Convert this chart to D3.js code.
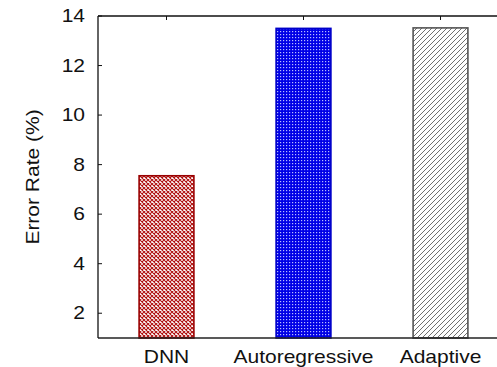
<!DOCTYPE html>
<html>
<head>
<meta charset="utf-8">
<script src="https://cdn.jsdelivr.net/npm/d3@7"></script>
<style>
  body { margin: 0; background: #fff; }
  text { font-family: "Liberation Sans", Arial, sans-serif; fill: #111; }
</style>
</head>
<body>
<svg id="chart" width="497" height="367"></svg>
<script>
// chart data
const categories = ['DNN', 'Autoregressive', 'Adaptive'];
const values = [7.55, 13.5, 13.52];
const yTicks = [2, 4, 6, 8, 10, 12, 14];
const yLabel = 'Error Rate (%)';

const svg = d3.select('#chart');
const margin = { left: 98, top: 16, bottom: 338 };
const stretch = 1.2; // text in the picture is drawn wide

const x = d3.scaleLinear().domain([0.5, 3.5]).range([margin.left, 509]);
const y = d3.scaleLinear().domain([1, 14]).range([margin.bottom, margin.top]);
const barW = x(1.4) - x(1);

// fill patterns
const defs = svg.append('defs');
const p1 = defs.append('pattern').attr('id', 'p-dnn')
  .attr('patternUnits', 'userSpaceOnUse').attr('width', 4).attr('height', 4);
p1.append('rect').attr('width', 4).attr('height', 4).attr('fill', '#fff');
p1.append('path').attr('d', 'M0,0 L4,4 M4,0 L0,4')
  .attr('stroke', '#b01010').attr('stroke-width', 1.1);

const p2 = defs.append('pattern').attr('id', 'p-ar')
  .attr('patternUnits', 'userSpaceOnUse').attr('width', 3).attr('height', 3);
p2.append('rect').attr('width', 3).attr('height', 3).attr('fill', '#0000e6');
p2.append('rect').attr('x', 1).attr('y', 1).attr('width', 1.2).attr('height', 1.2).attr('fill', '#b8bcff');

const p3 = defs.append('pattern').attr('id', 'p-ad')
  .attr('patternUnits', 'userSpaceOnUse').attr('width', 5).attr('height', 5);
p3.append('rect').attr('width', 5).attr('height', 5).attr('fill', '#fff');
p3.append('path').attr('d', 'M0,5 L5,0 M-1,1 L1,-1 M4,6 L6,4')
  .attr('stroke', '#707070').attr('stroke-width', 1);

const fills = ['url(#p-dnn)', 'url(#p-ar)', 'url(#p-ad)'];
const strokes = ['#9a0000', '#0000c8', '#555'];

// bars
svg.selectAll('rect.bar')
  .data(values)
  .enter().append('rect')
  .attr('class', 'bar')
  .attr('x', (d, i) => x(i + 1) - barW / 2)
  .attr('y', (d) => y(d))
  .attr('width', barW)
  .attr('height', (d) => y(1) - y(d))
  .attr('fill', (d, i) => fills[i])
  .attr('stroke', (d, i) => strokes[i])
  .attr('stroke-width', 1.6);

// axes lines
svg.append('line').attr('x1', margin.left).attr('x2', 497)
  .attr('y1', margin.bottom).attr('y2', margin.bottom)
  .attr('stroke', '#222').attr('stroke-width', 1.5);
svg.append('line').attr('x1', margin.left).attr('x2', 497)
  .attr('y1', margin.top).attr('y2', margin.top)
  .attr('stroke', '#111').attr('stroke-width', 1.3);
svg.append('line').attr('x1', margin.left).attr('x2', margin.left)
  .attr('y1', margin.top).attr('y2', margin.bottom)
  .attr('stroke', '#111').attr('stroke-width', 1.3);

// top ticks at categories
svg.selectAll('line.ttick').data(categories).enter().append('line')
  .attr('x1', (d, i) => x(i + 1)).attr('x2', (d, i) => x(i + 1))
  .attr('y1', margin.top).attr('y2', margin.top + 4)
  .attr('stroke', '#111');

// y ticks + labels
const yt = svg.selectAll('g.ytick').data(yTicks).enter().append('g')
  .attr('transform', (d) => 'translate(' + margin.left + ',' + y(d) + ')');
yt.append('line').attr('x2', 4).attr('stroke', '#111');
yt.append('text')
  .attr('transform', 'translate(-13,0) scale(' + stretch + ',1)')
  .attr('text-anchor', 'end').attr('dy', '0.35em')
  .style('font-size', '17.5px')
  .text((d) => d);

// category labels
svg.selectAll('text.cat').data(categories).enter().append('text')
  .attr('class', 'cat')
  .attr('transform', (d, i) => 'translate(' + x(i + 1) + ',363) scale(' + stretch + ',1)')
  .attr('text-anchor', 'middle')
  .style('font-size', '17.5px')
  .text((d) => d);

// y axis title
svg.append('text')
  .attr('transform', 'translate(39,177) rotate(-90) scale(' + stretch + ',1)')
  .attr('text-anchor', 'middle')
  .style('font-size', '17.5px')
  .text(yLabel);
</script>
</body>
</html>
